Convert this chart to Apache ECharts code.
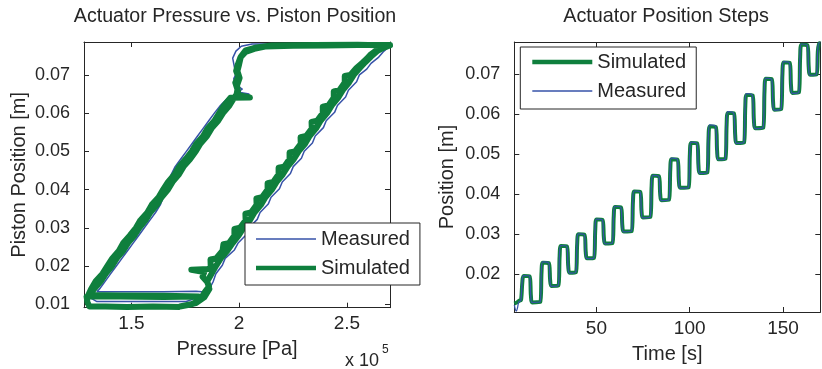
<!DOCTYPE html>
<html>
<head>
<meta charset="utf-8">
<script src="https://cdn.jsdelivr.net/npm/echarts/dist/echarts.min.js"></script>
<style>
html,body{margin:0;padding:0;background:#fff;}
#chart{width:822px;height:369px;}
</style>
</head>
<body>
<div id="chart"></div>
<script>
// ---------- DATA ----------
// Left panel: [pressure (x 10^5 Pa), piston position (m)]
const measuredLoop = [
 [1.840,0.0132],[1.800,0.0134],[1.650,0.0133],[1.500,0.0133],[1.340,0.0133],
 [1.352,0.0140],[1.378,0.0160],[1.404,0.0180],[1.430,0.0200],[1.456,0.0220],[1.482,0.0240],[1.508,0.0260],[1.534,0.0280],[1.560,0.0300],[1.586,0.0320],[1.612,0.0340],[1.634,0.0360],[1.648,0.0380],[1.660,0.0400],[1.670,0.0420],[1.685,0.0440],[1.703,0.0460],[1.729,0.0480],[1.755,0.0500],[1.781,0.0520],[1.807,0.0540],[1.833,0.0560],[1.859,0.0580],[1.885,0.0600],[1.913,0.0620],[1.945,0.0638],
 [2.040,0.0640],[2.046,0.0650],[1.992,0.0655],[2.015,0.0663],[1.985,0.0673],[1.975,0.0690],[1.988,0.0705],[1.978,0.0720],[1.970,0.0744],[1.985,0.0762],[2.010,0.0775],[2.060,0.0781],[2.300,0.0781],[2.500,0.0782],[2.700,0.0782],
 [2.700,0.0776],[2.668,0.0760],[2.645,0.0745],[2.612,0.0730],[2.592,0.0715],[2.558,0.0700],[2.545,0.0682],[2.507,0.0660],[2.494,0.0642],[2.456,0.0620],[2.443,0.0602],[2.404,0.0580],[2.391,0.0562],[2.353,0.0540],[2.340,0.0522],[2.302,0.0500],[2.289,0.0482],[2.251,0.0460],[2.238,0.0442],[2.200,0.0420],[2.187,0.0402],[2.148,0.0380],[2.135,0.0362],[2.097,0.0340],[2.084,0.0322],[2.046,0.0300],[2.033,0.0282],[1.995,0.0260],[1.978,0.0242],[1.935,0.0220],[1.922,0.0202],[1.892,0.0180],[1.880,0.0160],[1.866,0.0145],[1.840,0.0130],
 [1.810,0.0118],[1.754,0.0107],[1.600,0.0107],[1.450,0.0107],[1.340,0.0107],[1.312,0.0116],[1.320,0.0126]
];
const simulatedLoop = [
 [1.725,0.0093],[1.600,0.0094],[1.480,0.0093],[1.380,0.0094],[1.305,0.0094],[1.296,0.0105],[1.292,0.0120],
 [1.450,0.0120],[1.650,0.0119],[1.812,0.0120],[1.815,0.0122],[1.650,0.0122],[1.450,0.0123],[1.300,0.0124],
 [1.313,0.0140],[1.334,0.0160],[1.366,0.0180],[1.388,0.0200],[1.411,0.0220],[1.442,0.0240],[1.462,0.0260],[1.493,0.0280],[1.521,0.0300],[1.542,0.0320],[1.574,0.0340],[1.594,0.0360],[1.626,0.0380],[1.647,0.0400],[1.670,0.0420],[1.701,0.0440],[1.721,0.0460],[1.752,0.0480],[1.780,0.0500],[1.801,0.0520],[1.833,0.0540],[1.853,0.0560],[1.885,0.0580],[1.907,0.0600],[1.930,0.0620],[1.959,0.0640],
 [2.050,0.0641],[2.056,0.0646],[1.988,0.0648],[1.992,0.0662],[1.982,0.0680],[1.996,0.0695],[1.986,0.0710],[1.993,0.0726],[2.006,0.0746],[2.030,0.0760],[2.070,0.0768],[2.120,0.0774],[2.250,0.0776],[2.400,0.0777],[2.550,0.0778],[2.700,0.0778],
 [2.668,0.0775],[2.636,0.0764],[2.608,0.0752],[2.592,0.0742],[2.571,0.0731],[2.544,0.0718],
 [2.516,0.0700],[2.490,0.0697],[2.490,0.0680],[2.465,0.0660],[2.439,0.0657],[2.439,0.0640],[2.414,0.0620],[2.388,0.0617],[2.388,0.0600],[2.362,0.0580],[2.336,0.0577],[2.337,0.0560],[2.311,0.0540],[2.285,0.0537],[2.286,0.0520],[2.260,0.0500],[2.234,0.0497],[2.234,0.0480],[2.209,0.0460],[2.183,0.0457],[2.183,0.0440],[2.158,0.0420],[2.132,0.0417],[2.132,0.0400],[2.106,0.0380],[2.080,0.0377],[2.081,0.0360],[2.055,0.0340],[2.029,0.0337],[2.030,0.0320],[2.004,0.0300],[1.978,0.0297],[1.978,0.0280],[1.953,0.0260],[1.927,0.0257],[1.923,0.0240],[1.893,0.0220],[1.867,0.0217],[1.868,0.0200],
 [1.858,0.0192],[1.778,0.0190],[1.780,0.0186],[1.838,0.0184],[1.830,0.0172],[1.852,0.0158],[1.860,0.0146],[1.842,0.0133],[1.818,0.0111],[1.780,0.0100],[1.725,0.0094],
 [1.800,0.0103],[1.838,0.0118],[1.862,0.0140],[1.852,0.0160],[1.872,0.0180],[1.892,0.0200],[1.915,0.0220],[1.945,0.0240],[1.970,0.0260],[1.998,0.0280],[2.020,0.0300],[2.050,0.0320],[2.071,0.0340],[2.101,0.0360],[2.122,0.0380],[2.152,0.0400],[2.174,0.0420],[2.203,0.0440],[2.225,0.0460],[2.254,0.0480],[2.276,0.0500],[2.306,0.0520],[2.327,0.0540],[2.357,0.0560],[2.378,0.0580],[2.408,0.0600],[2.430,0.0620],[2.459,0.0640],[2.481,0.0660],[2.510,0.0680],[2.532,0.0700],[2.560,0.0718],[2.585,0.0733],[2.612,0.0748],[2.640,0.0762],[2.675,0.0772],[2.700,0.0777],
 [2.550,0.0779],[2.350,0.0778],[2.150,0.0777],[2.080,0.0772],[2.030,0.0764],[2.008,0.0748],[2.000,0.0728],[1.992,0.0710],[2.002,0.0692],[1.990,0.0672],[1.995,0.0655],[1.972,0.0636],
 [1.955,0.0620],[1.925,0.0600],[1.903,0.0580],[1.872,0.0560],[1.851,0.0540],[1.820,0.0520],[1.799,0.0500],[1.773,0.0480],[1.742,0.0460],[1.721,0.0440],[1.691,0.0420],[1.670,0.0400],[1.640,0.0380],[1.618,0.0360],[1.588,0.0340],[1.566,0.0320],[1.537,0.0300],[1.514,0.0280],[1.484,0.0260],[1.462,0.0240],[1.432,0.0220],[1.410,0.0200],[1.381,0.0180],[1.358,0.0160],[1.330,0.0142],[1.308,0.0126]
];
// Right panel: [time (s), position (m)]
const simulatedSteps = [
 [6,0.0127],[7.5,0.0130],[8.6,0.0134],
 [9.6,0.0136],[10.3,0.0180],[11.0,0.0196],[14.2,0.0195],[14.9,0.0147],[15.6,0.0130],
 [19.9,0.0131],[20.6,0.0206],[21.3,0.0229],[24.5,0.0228],[25.2,0.0186],[25.9,0.0171],
 [29.6,0.0172],[30.3,0.0246],[31.0,0.0271],[34.2,0.0270],[34.9,0.0221],[35.6,0.0204],
 [39.0,0.0205],[39.7,0.0276],[40.4,0.0300],[43.6,0.0299],[44.3,0.0255],[45.0,0.0240],
 [48.7,0.0241],[49.4,0.0313],[50.1,0.0337],[53.3,0.0336],[54.0,0.0292],[54.7,0.0277],
 [58.6,0.0278],[59.3,0.0345],[60.0,0.0368],[63.2,0.0367],[63.9,0.0322],[64.6,0.0307],
 [68.9,0.0308],[69.6,0.0382],[70.3,0.0407],[73.5,0.0406],[74.2,0.0358],[74.9,0.0342],
 [78.9,0.0343],[79.6,0.0420],[80.3,0.0446],[83.5,0.0445],[84.2,0.0400],[84.9,0.0385],
 [88.9,0.0386],[89.6,0.0462],[90.3,0.0487],[93.5,0.0486],[94.2,0.0434],[94.9,0.0416],
 [99.4,0.0417],[100.1,0.0500],[100.8,0.0528],[104.0,0.0527],[104.7,0.0472],[105.4,0.0453],
 [109.4,0.0454],[110.1,0.0540],[110.8,0.0569],[114.0,0.0568],[114.7,0.0508],[115.4,0.0487],
 [119.1,0.0488],[119.8,0.0574],[120.5,0.0603],[123.7,0.0602],[124.4,0.0547],[125.1,0.0528],
 [129.1,0.0529],[129.8,0.0619],[130.5,0.0648],[133.7,0.0647],[134.4,0.0586],[135.1,0.0565],
 [139.4,0.0566],[140.1,0.0658],[140.8,0.0688],[144.0,0.0687],[144.7,0.0630],[145.4,0.0611],
 [149.0,0.0612],[149.7,0.0700],[150.4,0.0729],[153.6,0.0728],[154.3,0.0672],[155.0,0.0653],
 [158.5,0.0654],[159.2,0.0743],[159.9,0.0773],[163.1,0.0772],[163.8,0.0717],[164.5,0.0698],
 [168.0,0.0699],[168.7,0.0758],[169.4,0.0777],[170,0.0777]
];
const measuredSteps = [
 [6,0.0124],[6.6,0.0112],[7.1,0.0108],[7.7,0.0116],[8.4,0.0131],
 [9.5,0.0135],[10.2,0.0182],[10.9,0.0197],[14.1,0.0196],[14.8,0.0148],[15.5,0.0130],
 [19.8,0.0131],[20.5,0.0208],[21.2,0.0231],[24.4,0.0229],[25.1,0.0186],[25.8,0.0170],
 [29.5,0.0172],[30.2,0.0248],[30.9,0.0272],[34.1,0.0270],[34.8,0.0220],[35.5,0.0203],
 [38.9,0.0205],[39.6,0.0278],[40.3,0.0301],[43.5,0.0299],[44.2,0.0254],[44.9,0.0239],
 [48.6,0.0241],[49.3,0.0315],[50.0,0.0338],[53.2,0.0336],[53.9,0.0291],[54.6,0.0276],
 [58.5,0.0278],[59.2,0.0347],[59.9,0.0370],[63.1,0.0367],[63.8,0.0321],[64.5,0.0306],
 [68.8,0.0308],[69.5,0.0384],[70.2,0.0408],[73.4,0.0406],[74.1,0.0357],[74.8,0.0341],
 [78.8,0.0343],[79.5,0.0422],[80.2,0.0447],[83.4,0.0445],[84.1,0.0399],[84.8,0.0384],
 [88.8,0.0386],[89.5,0.0464],[90.2,0.0490],[93.4,0.0487],[94.1,0.0433],[94.8,0.0415],
 [99.3,0.0417],[100.0,0.0502],[100.7,0.0530],[103.9,0.0527],[104.6,0.0471],[105.3,0.0452],
 [109.3,0.0454],[110.0,0.0543],[110.7,0.0573],[113.9,0.0569],[114.6,0.0507],[115.3,0.0486],
 [119.0,0.0488],[119.7,0.0576],[120.4,0.0606],[123.6,0.0602],[124.3,0.0546],[125.0,0.0527],
 [129.0,0.0529],[129.7,0.0621],[130.4,0.0651],[133.6,0.0647],[134.3,0.0585],[135.0,0.0564],
 [139.3,0.0566],[140.0,0.0660],[140.7,0.0690],[143.9,0.0687],[144.6,0.0629],[145.3,0.0610],
 [148.9,0.0612],[149.6,0.0702],[150.3,0.0731],[153.5,0.0728],[154.2,0.0671],[154.9,0.0652],
 [158.4,0.0654],[159.1,0.0745],[159.8,0.0775],[163.0,0.0772],[163.7,0.0716],[164.4,0.0697],
 [167.9,0.0699],[168.6,0.0760],[169.3,0.0778],[170,0.0778]
];
// Axis ranges and tick steps
const pressureRange = [1.28, 2.70];   const pressureStep = 0.5;
const loopPosRange  = [0.0091, 0.0786]; const posStep = 0.01;
const timeRange     = [6, 170];       const timeStep = 50;
const stepPosRange  = [0.0106, 0.0780];
const titles = ['Actuator Pressure vs. Piston Position', 'Actuator Position Steps'];
const seriesNames = ['Measured', 'Simulated'];

// ---------- CHART ----------
const TXT = '#262626';
const FONT = '"Liberation Sans", Arial, Helvetica, sans-serif';
const BLUE = '#3652a8';
const GREEN = '#0f7f3d';
const ICON_THIN = 'path://M0,0H60V1.3H0Z';
const ICON_THICK = 'path://M0,0H60V4.5H0Z';

function axis(kind, gridIndex, position, range, step, labels, extra) {
  const isY = kind === 'y';
  return Object.assign({
    type: 'value', gridIndex: gridIndex, position: position,
    min: range[0], max: range[1], minInterval: step, maxInterval: step,
    axisLine: { show: true, onZero: false, lineStyle: { color: TXT, width: 1 } },
    axisTick: { show: true, inside: true, length: 5, lineStyle: { color: TXT, width: 1 } },
    axisLabel: { show: labels, showMinLabel: false, showMaxLabel: false, color: TXT,
      fontSize: isY ? 18 : 19, fontFamily: FONT, margin: isY ? 14 : 7 },
    splitLine: { show: false }
  }, extra || {});
}
function legend(names, left, top, padding) {
  return {
    data: names.map(n => ({ name: n, icon: n === 'Measured' ? ICON_THIN : ICON_THICK })),
    orient: 'vertical', left: left, top: top, padding: padding,
    itemWidth: 60, itemHeight: 14, itemGap: 9, symbolKeepAspect: true,
    borderColor: TXT, borderWidth: 1, backgroundColor: '#fff',
    textStyle: { color: TXT, fontSize: 20, fontFamily: FONT, lineHeight: 20 }
  };
}

const chart = echarts.init(document.getElementById('chart'), null, { renderer: 'canvas' });
const nameStyle = { color: TXT, fontSize: 20, fontFamily: FONT };
const option = {
  animation: false,
  backgroundColor: '#fff',
  grid: [
    { left: 84, top: 42, width: 306, height: 265.7 },
    { left: 514.3, top: 42, width: 306, height: 270.7 }
  ],
  xAxis: [
    axis('x', 0, 'bottom', pressureRange, pressureStep, true, {
      name: 'Pressure [Pa]', nameLocation: 'middle', nameGap: 32, nameTextStyle: nameStyle }),
    axis('x', 0, 'top', pressureRange, pressureStep, false),
    axis('x', 1, 'bottom', timeRange, timeStep, true, {
      name: 'Time [s]', nameLocation: 'middle', nameGap: 32, nameTextStyle: nameStyle }),
    axis('x', 1, 'top', timeRange, timeStep, false)
  ],
  yAxis: [
    axis('y', 0, 'left', loopPosRange, posStep, true, {
      name: 'Piston Position [m]', nameLocation: 'middle', nameGap: 55, nameTextStyle: nameStyle }),
    axis('y', 0, 'right', loopPosRange, posStep, false),
    axis('y', 1, 'left', stepPosRange, posStep, true, {
      name: 'Position [m]', nameLocation: 'middle', nameGap: 57, nameTextStyle: nameStyle }),
    axis('y', 1, 'right', stepPosRange, posStep, false)
  ],
  legend: [
    legend([seriesNames[0], seriesNames[1]], 245, 223, [6, 10, 7, 11]),
    legend([seriesNames[1], seriesNames[0]], 520.3, 47, [5, 10, 8, 12])
  ],
  graphic: [
    { type: 'text', x: 235, y: 17, style: { text: titles[0], fill: TXT, fontSize: 19.6, fontFamily: FONT, align: 'center', verticalAlign: 'middle' } },
    { type: 'text', x: 666, y: 17, style: { text: titles[1], fill: TXT, fontSize: 19.8, fontFamily: FONT, align: 'center', verticalAlign: 'middle' } },
    { type: 'text', x: 345, y: 361, style: { text: 'x 10', fill: TXT, fontSize: 18, fontFamily: FONT, align: 'left', verticalAlign: 'middle' } },
    { type: 'text', x: 382, y: 350, style: { text: '5', fill: TXT, fontSize: 12, fontFamily: FONT, align: 'left', verticalAlign: 'middle' } }
  ],
  series: [
    { name: seriesNames[0], type: 'line', xAxisIndex: 0, yAxisIndex: 0, data: measuredLoop,
      symbol: 'none', clip: false, lineStyle: { color: BLUE, width: 1.5 }, itemStyle: { color: BLUE } },
    { name: seriesNames[1], type: 'line', xAxisIndex: 0, yAxisIndex: 0, data: simulatedLoop,
      symbol: 'none', clip: false, lineStyle: { color: GREEN, width: 6, join: 'round' }, itemStyle: { color: GREEN } },
    { name: seriesNames[1], type: 'line', xAxisIndex: 2, yAxisIndex: 2, data: simulatedSteps,
      symbol: 'none', clip: false, smooth: 0.3, lineStyle: { color: GREEN, width: 4 }, itemStyle: { color: GREEN } },
    { name: seriesNames[0], type: 'line', xAxisIndex: 2, yAxisIndex: 2, data: measuredSteps,
      symbol: 'none', clip: false, smooth: 0.3, lineStyle: { color: BLUE, width: 1.2 }, itemStyle: { color: BLUE } }
  ]
};
chart.setOption(option);
</script>
</body>
</html>
